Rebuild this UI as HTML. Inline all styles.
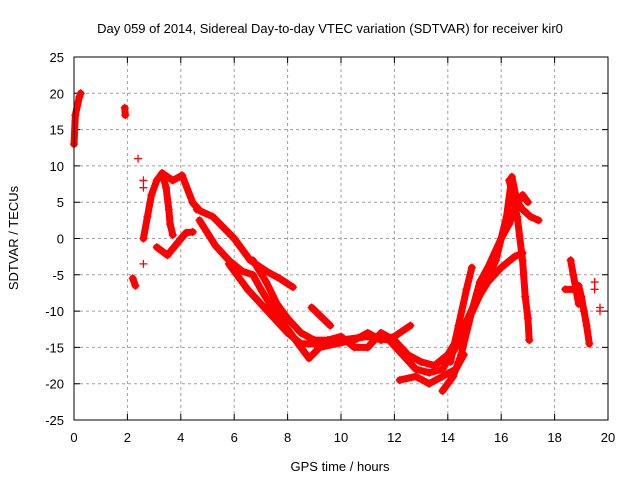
<!DOCTYPE html>
<html><head><meta charset="utf-8"><style>
body{margin:0;background:#fff;}
svg text{font-family:"Liberation Sans",Arial,sans-serif;font-size:13px;fill:#000;}
</style></head><body>
<svg id="chart" width="640" height="480" xmlns="http://www.w3.org/2000/svg"></svg>
<script>
const xTicks=[0,2,4,6,8,10,12,14,16,18,20];
const yTicks=[-25,-20,-15,-10,-5,0,5,10,15,20,25];
const tracks=[
 [[0,13],[0.05,17],[0.2,19.5],[0.25,20]],
 [[1.9,18],[1.92,17]],
 [[2.2,-5.5],[2.3,-6.5]],
 [[2.6,0],[2.75,3],[2.9,6],[3.1,8],[3.3,9],[3.45,7],[3.55,4],[3.6,2],[3.7,0.5]],
 [[3.1,-1.2],[3.5,-2.3],[3.9,-0.5],[4.2,0.8],[4.45,0.9]],
 [[3.3,9],[3.7,8],[4.05,8.7],[4.45,4.9],[4.7,3.9]],
 [[4.6,4],[5.2,3],[6.0,0],[6.6,-3],[7.2,-4.5],[7.7,-5.5],[8.2,-6.7]],
 [[4.7,2.5],[5.3,-1],[5.8,-3],[6.3,-4.5],[6.7,-5],[7.0,-7],[7.5,-10],[8.0,-12.5],[8.5,-15],[8.8,-16.5],[9.2,-15],[9.8,-14.5],[10.5,-14],[11.0,-13],[11.5,-14],[12.0,-13.5],[12.6,-12]],
 [[5.8,-3.5],[6.5,-7],[7.0,-9],[7.5,-11],[8.0,-13],[8.5,-14.5],[9.0,-14.5],[9.5,-14],[10.0,-13.5],[10.5,-15],[11,-15],[11.5,-13],[12.0,-14],[12.5,-16],[13.0,-17],[13.5,-17.5],[14.0,-16],[14.5,-13],[15,-9],[15.5,-6],[16,-4],[16.5,-2.5],[16.8,-2]],
 [[6.7,-3],[7.2,-6],[7.6,-9],[8,-11],[8.5,-13],[9,-14],[10,-14],[11,-13.5],[11.8,-14],[12.3,-16],[12.8,-18],[13.3,-18.5],[13.8,-18],[14.3,-15],[14.8,-11],[15.3,-7],[15.8,-3],[16.2,3],[16.4,8.5],[16.6,5],[16.8,4],[17.1,3],[17.4,2.5]],
 [[12.2,-19.5],[12.8,-19],[13.3,-20],[13.8,-19],[14.3,-18],[14.6,-16]],
 [[13.8,-21],[14.2,-19],[14.5,-16],[14.9,-10],[15.2,-6],[15.5,-4],[16.0,0],[16.3,2],[16.5,4],[16.8,6],[17.0,5]],
 [[14.1,-17],[14.4,-12],[14.7,-7],[14.9,-4]],
 [[16.3,8],[16.6,3],[16.8,-3],[16.9,-8],[17.0,-11],[17.05,-14]],
 [[8.9,-9.5],[9.6,-12]],
 [[18.4,-7],[18.7,-7],[18.9,-6.5],[19.0,-8],[19.1,-10],[19.2,-12],[19.3,-14.5]],
 [[18.6,-3],[18.7,-5],[18.8,-7],[18.9,-9]]
];
const isolated=[[19.5,-6],[19.5,-7],[19.7,-9.5],[19.7,-10],[2.4,11],[2.6,-3.5],[2.6,8],[2.6,7]];
const X0=74,X1=608,Y0=420,Y1=57;
const sx=v=>X0+(v-0)/20*(X1-X0);
const sy=v=>Y0-(v+25)/50*(Y0-Y1);
const svg=document.getElementById('chart');
const NS='http://www.w3.org/2000/svg';
function mk(t,a){const e=document.createElementNS(NS,t);for(const k in a)e.setAttribute(k,a[k]);svg.appendChild(e);return e;}
xTicks.forEach(t=>{
 const x=sx(t);
 if(t>0&&t<20){const g=mk('line',{x1:x,x2:x,y1:Y1,y2:Y0,stroke:'#a0a0a0','stroke-dasharray':'3,3'});
 
 }
 const tk=mk('path',{d:`M${x},${Y0}v-6M${x},${Y1}v6`,stroke:'#000'});
 
 
 const l=mk('text',{x:x,y:Y0+22,'text-anchor':'middle'});l.textContent=t;
 
 
});
yTicks.forEach(t=>{
 const y=sy(t);
 if(t>-25&&t<25){const g=mk('line',{x1:X0,x2:X1,y1:y,y2:y,stroke:'#a0a0a0','stroke-dasharray':'3,3'});
 
 }
 const tk=mk('path',{d:`M${X0},${y}h6M${X1},${y}h-6`,stroke:'#000'});
 
 
 const l=mk('text',{x:X0-10,y:y+5,'text-anchor':'end'});l.textContent=t;
 
 
});
tracks.forEach(tr=>{
 const p=mk('polyline',{points:tr.map(d=>sx(d[0])+','+sy(d[1])).join(' '),fill:'none',stroke:'#ff0000','stroke-width':7,'stroke-linejoin':'round','stroke-linecap':'round'});
 
 
});
tracks.flat().concat(isolated).forEach(d=>{
 const x=sx(d[0]),y=sy(d[1]);
 const m=mk('path',{d:`M${x-4},${y}H${x+4}M${x},${y-4}V${y+4}`,stroke:'#ff0000','stroke-width':1.3});
 
 
});
const f=mk('rect',{x:X0,y:Y1,width:X1-X0,height:Y0-Y1,fill:'none',stroke:'#000','stroke-width':1});


const t=mk('text',{x:330,y:33,'text-anchor':'middle'});t.textContent='Day 059 of 2014, Sidereal Day-to-day VTEC variation (SDTVAR) for receiver kir0';


const xt=mk('text',{x:340,y:471,'text-anchor':'middle'});xt.textContent='GPS time / hours';


const yt=mk('text',{x:18,y:238,'text-anchor':'middle',transform:'rotate(-90 18 238)'});yt.textContent='SDTVAR / TECUs';


</script>
</body></html>
